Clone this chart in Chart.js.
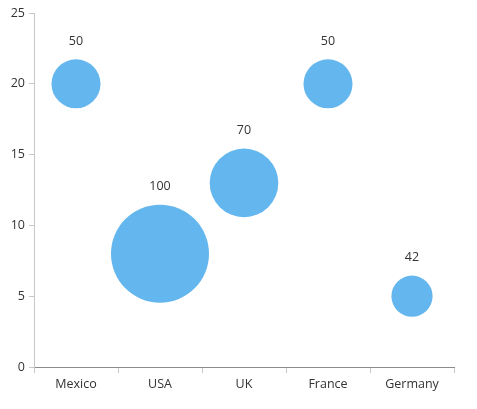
<!DOCTYPE html>
<html>
<head>
<meta charset="utf-8">
<script src="https://cdn.jsdelivr.net/npm/chart.js@4"></script>
<style>
  html, body { margin: 0; padding: 0; background: #fff; }
  #wrap { width: 477px; height: 409px; }
</style>
</head>
<body>
<div id="wrap"><canvas id="bubbleChart"></canvas></div>
<script>
// dados do gráfico
const countries = ['Mexico', 'USA', 'UK', 'France', 'Germany'];
const yValues = [20, 8, 13, 20, 5];
const sizes = [50, 100, 70, 50, 42];
const yTicks = [0, 5, 10, 15, 20, 25];

const FONT = { family: 'Open Sans', size: 12.5 };
const TEXT = '#333333';

// rótulos de valor acima das bolhas
const bubbleLabels = {
    id: 'bubbleLabels',
    afterDatasetsDraw(chart) {
        const ctx = chart.ctx;
        const meta = chart.getDatasetMeta(0);
        ctx.save();
        ctx.font = FONT.size + 'px ' + FONT.family;
        ctx.fillStyle = TEXT;
        ctx.textAlign = 'center';
        ctx.textBaseline = 'middle';
        meta.data.forEach((el, i) => {
            ctx.fillText(String(sizes[i]), el.x, el.y - el.options.radius - 18);
        });
        ctx.restore();
    }
};

const ctx = document.getElementById('bubbleChart');
new Chart(ctx, {
    type: 'bubble',
    data: {
        labels: countries,
        datasets: [{
            data: countries.map((c, i) => ({ x: c, y: yValues[i], v: sizes[i] })),
            backgroundColor: 'rgb(99, 182, 238)',
            borderWidth: 0,
            radius: c => c.raw ? c.raw.v * 0.49 : 0,
            hoverRadius: 0
        }]
    },
    options: {
        responsive: true,
        maintainAspectRatio: false,
        animation: false,
        events: [],
        layout: { autoPadding: false, padding: { top: 13, right: 23, left: 0, bottom: 0 } },
        plugins: {
            legend: { display: false },
            tooltip: { enabled: false }
        },
        scales: {
            x: {
                type: 'category',
                offset: true,
                grid: {
                    offset: true,
                    drawOnChartArea: false,
                    tickLength: 6,
                    color: '#c8c8c8'
                },
                border: { color: '#8c8c8c' },
                ticks: { color: TEXT, font: FONT, padding: 4, maxRotation: 0 },
                afterFit: s => { s.height = 42; }
            },
            y: {
                min: 0,
                max: 25,
                afterBuildTicks: s => { s.ticks = yTicks.map(v => ({ value: v })); },
                grid: {
                    drawOnChartArea: false,
                    tickLength: 5,
                    color: '#c8c8c8'
                },
                border: { color: '#c8c8c8' },
                ticks: { color: TEXT, font: FONT, padding: 4 },
                afterFit: s => { s.width = 34; }
            }
        }
    },
    plugins: [bubbleLabels]
});
</script>
</body>
</html>
